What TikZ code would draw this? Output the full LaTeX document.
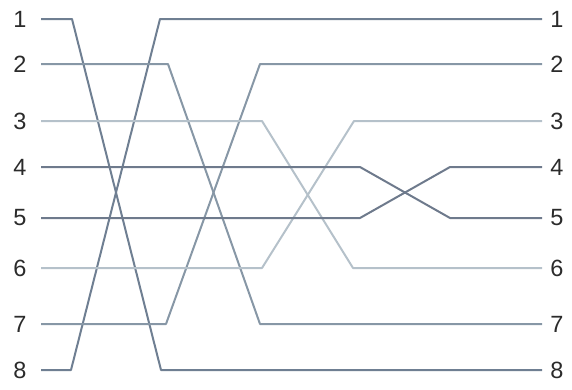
\documentclass[tikz,border=0pt]{standalone}
\usepackage{fontspec}
\setmainfont{Liberation Sans}
\definecolor{labcol}{HTML}{2B2B2B}
\definecolor{wireA}{HTML}{6F7F92}
\definecolor{wireB}{HTML}{8797A6}
\definecolor{wireC}{HTML}{B5C1CA}
\definecolor{wireD}{HTML}{6E7A8C}

\begin{document}
\begin{tikzpicture}[x=1pt,y=-1pt,
  num/.style={font=\fontsize{23.5}{28}\selectfont,text=labcol,inner sep=0pt},
  wire/.style={line width=2pt,line join=round}]
\useasboundingbox (0,0) rectangle (572,389);
\foreach \i/\y in {1/19,2/64,3/121,4/167,5/218,6/268,7/324,8/370} {
  \node[num] (l\i) at (20,\y) {\i};
  \node[num] (r\i) at (557,\y) {\i};
  \coordinate (a\i) at (41,\y);
  \coordinate (b\i) at (542,\y);
}
% 1 <-> 8
\draw[wire,wireA] (a1) -- (72,0 |- a1) -- (161,0 |- a8) -- (b8);
\draw[wire,wireA] (a8) -- (71,0 |- a8) -- (160,0 |- a1) -- (b1);
% 2 <-> 7
\draw[wire,wireB] (a2) -- (168,0 |- a2) -- (260,0 |- a7) -- (b7);
\draw[wire,wireB] (a7) -- (166,0 |- a7) -- (260,0 |- a2) -- (b2);
% 3 <-> 6
\draw[wire,wireC] (a3) -- (262,0 |- a3) -- (353,0 |- a6) -- (b6);
\draw[wire,wireC] (a6) -- (262,0 |- a6) -- (354,0 |- a3) -- (b3);
% 4 <-> 5
\draw[wire,wireD] (a4) -- (360,0 |- a4) -- (450,0 |- a5) -- (b5);
\draw[wire,wireD] (a5) -- (360,0 |- a5) -- (450,0 |- a4) -- (b4);
\end{tikzpicture}
\end{document}
